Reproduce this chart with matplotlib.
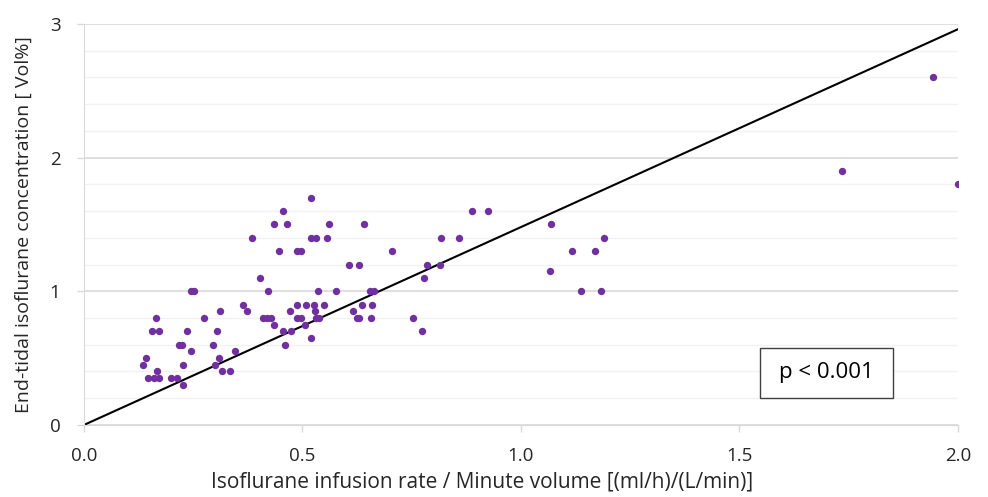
import matplotlib.pyplot as plt
from matplotlib.patches import Rectangle
from matplotlib.ticker import MultipleLocator

# infusion rate / minute volume vs end-tidal concentration
rate = [0.136, 0.141, 0.147, 0.161, 0.172, 0.166, 0.156, 0.172, 0.165, 0.199,
        0.214, 0.227, 0.218, 0.224, 0.227, 0.235, 0.245, 0.246, 0.252, 0.275,
        0.296, 0.304, 0.311, 0.300, 0.310, 0.315, 0.334, 0.346, 0.365, 0.372,
        0.384, 0.403, 0.422, 0.409, 0.418, 0.427, 0.435, 0.435, 0.456, 0.465,
        0.446, 0.455, 0.461, 0.471, 0.474, 0.487, 0.496, 0.488, 0.487, 0.496,
        0.506, 0.508, 0.519, 0.519, 0.530, 0.520, 0.526, 0.529, 0.532, 0.537,
        0.536, 0.550, 0.555, 0.561, 0.576, 0.607, 0.629, 0.615, 0.624, 0.629,
        0.636, 0.641, 0.654, 0.664, 0.660, 0.657, 0.705, 0.752, 0.773, 0.777,
        0.786, 0.815, 0.818, 0.859, 0.889, 0.924, 1.069, 1.067, 1.117, 1.138,
        1.169, 1.182, 1.191, 1.735, 1.943, 2.000]
conc = [0.45, 0.50, 0.35, 0.35, 0.35, 0.40, 0.70, 0.70, 0.80, 0.35,
        0.35, 0.30, 0.60, 0.60, 0.45, 0.70, 0.55, 1.00, 1.00, 0.80,
        0.60, 0.70, 0.85, 0.45, 0.50, 0.40, 0.40, 0.55, 0.90, 0.85,
        1.40, 1.10, 1.00, 0.80, 0.80, 0.80, 0.75, 1.50, 1.60, 1.50,
        1.30, 0.70, 0.60, 0.85, 0.70, 1.30, 1.30, 0.90, 0.80, 0.80,
        0.75, 0.90, 1.70, 1.40, 1.40, 0.65, 0.90, 0.85, 0.80, 0.80,
        1.00, 0.90, 1.40, 1.50, 1.00, 1.20, 1.20, 0.85, 0.80, 0.80,
        0.90, 1.50, 1.00, 1.00, 0.90, 0.80, 1.30, 0.80, 0.70, 1.10,
        1.20, 1.20, 1.40, 1.40, 1.60, 1.60, 1.50, 1.15, 1.30, 1.00,
        1.30, 1.00, 1.40, 1.90, 2.60, 1.80]

line_x = [0.0, 2.0]
line_y = [0.0, 2.96]

plt.rcParams['font.family'] = ['Open Sans', 'DejaVu Sans']

fig = plt.figure(figsize=(9.88, 4.97), dpi=100)
ax = fig.add_axes([0.085, 0.145, 0.8846, 0.807])

ax.yaxis.set_major_locator(MultipleLocator(1))
ax.yaxis.set_minor_locator(MultipleLocator(0.2))
ax.xaxis.set_major_locator(MultipleLocator(0.5))
ax.grid(True, which='minor', axis='y', color='#f2f2f2', linewidth=1)
ax.grid(True, which='major', axis='y', color='#d9d9d9', linewidth=1.2)
ax.set_axisbelow(True)

ax.plot(line_x, line_y, color='black', linewidth=1.5, zorder=2)
ax.scatter(rate, conc, s=28, color='#7030A0', zorder=3, linewidths=0)

ax.set_xlim(0, 2.0)
ax.set_ylim(0, 3)
ax.xaxis.set_major_formatter(lambda v, p: f'{v:.1f}')
ax.yaxis.set_major_formatter(lambda v, p: f'{v:.0f}')

for s in ['top', 'right']:
    ax.spines[s].set_visible(False)
ax.spines['left'].set_color('#d9d9d9')
ax.spines['bottom'].set_color('#d9d9d9')
ax.tick_params(which='minor', length=0)
ax.tick_params(which='major', length=5, width=1, color='#d9d9d9',
               labelsize=13.5, labelcolor='#262626')
ax.tick_params(axis='x', pad=11)
ax.tick_params(axis='y', pad=12)

ax.set_xlabel('Isoflurane infusion rate / Minute volume [(ml/h)/(L/min)]',
              fontsize=15, color='#262626')
ax.xaxis.set_label_coords(0.455, -0.115)
ax.set_ylabel('End-tidal isoflurane concentration [ Vol%]',
              fontsize=14, color='#262626', labelpad=12)

ax.add_patch(Rectangle((0.7735, 0.0673), 0.1522, 0.1247, transform=ax.transAxes,
                       facecolor='white', edgecolor='#404040', linewidth=1,
                       zorder=4))
ax.text(0.8495, 0.130, 'p < 0.001', transform=ax.transAxes, fontsize=16,
        ha='center', va='center', color='black', zorder=5)

fig.savefig('out.png', dpi=100)
